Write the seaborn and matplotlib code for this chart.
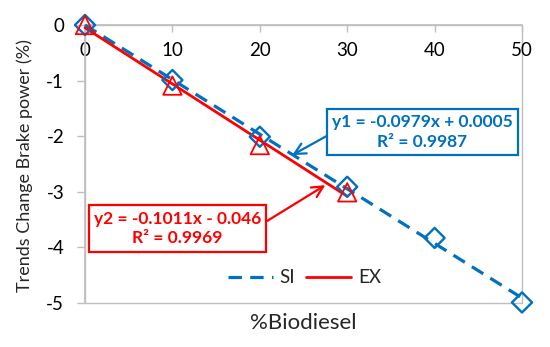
import numpy as np
import pandas as pd
import seaborn as sns
import matplotlib
matplotlib.use("Agg")
import matplotlib.pyplot as plt
from matplotlib.lines import Line2D
from matplotlib.patches import Rectangle

# Data
biodiesel = [0, 10, 20, 30, 40, 50]
si_values = [0.0, -0.99, -2.01, -2.91, -3.83, -4.99]
ex_biodiesel = [0, 10, 20, 30]
ex_values = [0.0, -1.09, -2.16, -3.01]
eq_si = "y1 = -0.0979x + 0.0005\nR² = 0.9987"
eq_ex = "y2 = -0.1011x - 0.046\nR² = 0.9969"
xticks = [0, 10, 20, 30, 40, 50]
yticks = [0, -1, -2, -3, -4, -5]

BLUE = "#0070C0"
RED = "#FF0000"
GRAY = "#BFBFBF"

sns.set_theme(style="white")
plt.rcParams["font.family"] = ["Lato", "DejaVu Sans"]

fig = plt.figure(figsize=(5.5, 3.47), dpi=100)
ax = fig.add_axes([85 / 550, 1 - 303 / 347, (522 - 85) / 550, (303 - 25) / 347])

# trendlines fitted from data
si_fit = np.polyfit(biodiesel, si_values, 1)
ex_fit = np.polyfit(ex_biodiesel, ex_values, 1)
xs_si = np.array([biodiesel[0], biodiesel[-1]])
xs_ex = np.array([ex_biodiesel[0], ex_biodiesel[-1]])
df_si_fit = pd.DataFrame({"x": xs_si, "y": np.polyval(si_fit, xs_si)})
df_ex_fit = pd.DataFrame({"x": xs_ex, "y": np.polyval(ex_fit, xs_ex)})

DASH = (0, (4.2, 2.6))
sns.lineplot(data=df_si_fit, x="x", y="y", ax=ax, color=BLUE, lw=2.3,
             linestyle=DASH, zorder=3, clip_on=False)
sns.lineplot(data=df_ex_fit, x="x", y="y", ax=ax, color=RED, lw=2.0,
             zorder=4, clip_on=False)

df_si = pd.DataFrame({"x": biodiesel, "y": si_values})
df_ex = pd.DataFrame({"x": ex_biodiesel, "y": ex_values})
sns.scatterplot(data=df_si, x="x", y="y", ax=ax, marker="D", s=105,
                facecolor="none", edgecolor=BLUE, linewidth=1.7, zorder=5,
                clip_on=False)
sns.scatterplot(data=df_ex, x="x", y="y", ax=ax, marker="^", s=175,
                facecolor="none", edgecolor=RED, linewidth=1.3, zorder=6,
                clip_on=False)

ax.set_xlim(0, 50)
ax.set_ylim(-5, 0)
ax.set_xticks(xticks)
ax.set_yticks(yticks)
ax.set_xticklabels([str(v) for v in xticks])
ax.set_yticklabels([str(v) for v in yticks])

for s in ["top", "right", "left", "bottom"]:
    ax.spines[s].set_visible(False)
ax.spines["bottom"].set_visible(True)
ax.spines["bottom"].set_position(("data", 0))
ax.spines["bottom"].set_color(GRAY)
ax.spines["left"].set_visible(True)
ax.spines["left"].set_color(GRAY)
ax.add_patch(Rectangle((0, 0), 1, 1, transform=ax.transAxes, fill=False,
                       ec=GRAY, lw=1.0, zorder=0, clip_on=False))

ax.tick_params(axis="x", direction="out", length=5, width=1, color=GRAY,
               labelsize=13.5, pad=7, bottom=True, labelcolor="black")
ax.tick_params(axis="y", direction="out", length=6, width=1, color=GRAY,
               labelsize=13.5, pad=9, left=True, labelcolor="black")

ax.set_xlabel("%Biodiesel", fontsize=16, va="top")
ax.xaxis.set_label_coords(0.5, -0.035)
ax.set_ylabel("Trends Change Brake power (%)", fontsize=13, va="bottom")
ax.yaxis.set_label_coords(-0.118, 0.493)

# annotations
ax.annotate(eq_si, xy=(23.7, -2.34), xytext=(38.6, -1.93), fontsize=12.5,
            fontweight="bold", color=BLUE, ha="center", va="center",
            linespacing=1.3,
            bbox=dict(boxstyle="square,pad=0.3", fc="white", ec=BLUE, lw=1.6),
            arrowprops=dict(arrowstyle="->", color=BLUE, lw=1.6,
                            mutation_scale=20, shrinkA=0, shrinkB=0,
                            relpos=(0, 0.48)),
            zorder=10)
ax.annotate(eq_ex, xy=(27.5, -2.88), xytext=(10.6, -3.66), fontsize=12.5,
            fontweight="bold", color=RED, ha="center", va="center",
            linespacing=1.3,
            bbox=dict(boxstyle="square,pad=0.3", fc="white", ec=RED, lw=1.6),
            arrowprops=dict(arrowstyle="->", color=RED, lw=1.6,
                            mutation_scale=20, shrinkA=0, shrinkB=0,
                            relpos=(1, 0.61)),
            zorder=10)

handles = [Line2D([], [], color=BLUE, lw=2.3, linestyle=DASH),
           Line2D([], [], color=RED, lw=2.0)]
ax.legend(handles, ["SI", "EX"], loc="center", bbox_to_anchor=(0.502, 0.09),
          ncol=2, frameon=False, fontsize=13.5, handlelength=2.4,
          columnspacing=0.6, handletextpad=0.35, borderpad=0, borderaxespad=0)

fig.savefig("out.png", dpi=100)
